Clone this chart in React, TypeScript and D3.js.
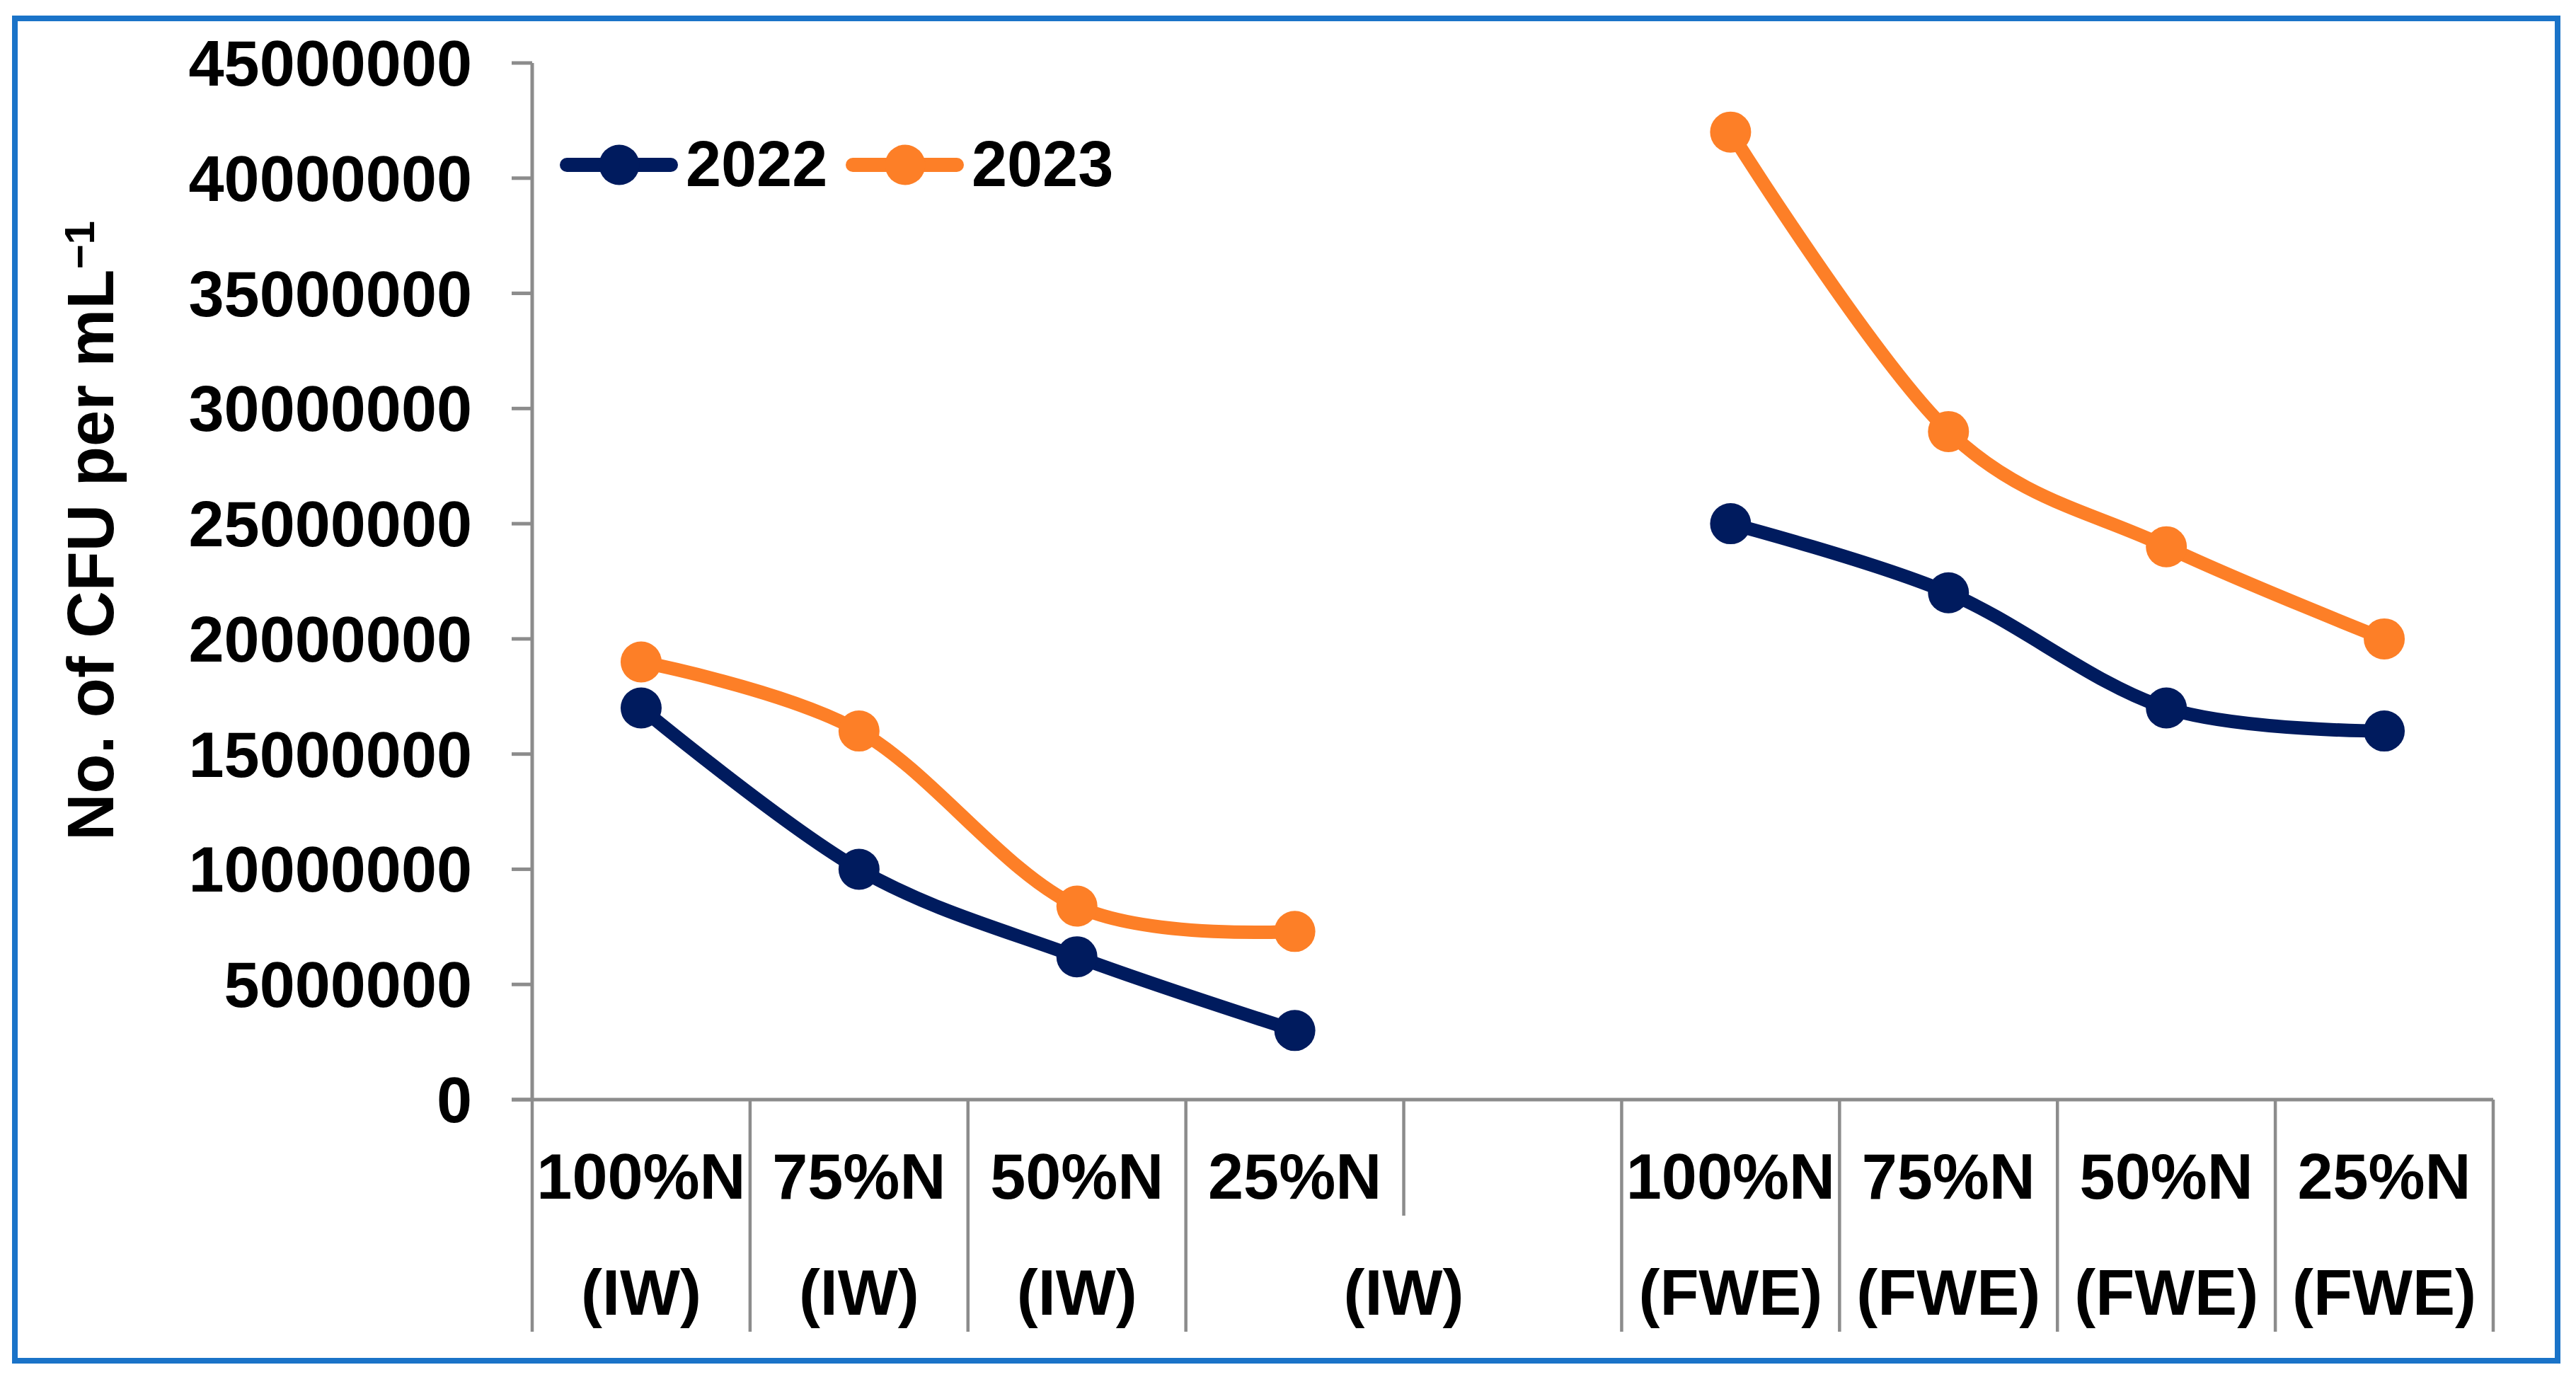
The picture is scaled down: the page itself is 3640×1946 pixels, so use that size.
import * as d3 from 'd3';

// ── Data ──────────────────────────────────────────────────
const catTop = ['100%N', '75%N', '50%N', '25%N', '', '100%N', '75%N', '50%N', '25%N'];
const catBottom = ['(IW)', '(IW)', '(IW)', '(IW)', '', '(FWE)', '(FWE)', '(FWE)', '(FWE)'];
// the 4th label's second line spills to the right edge of its band (Excel wrap quirk)
const bottomShifted = [false, false, false, true, false, false, false, false, false];

const values2022: (number | null)[] = [17000000, 10000000, 6200000, 3000000, null, 25000000, 22000000, 17000000, 16000000];
const values2023: (number | null)[] = [19000000, 16000000, 8400000, 7300000, null, 42000000, 29000000, 24000000, 20000000];

const series = [
  { name: '2022', values: values2022, color: '#001B5E' },
  { name: '2023', values: values2023, color: '#FD7F27' },
];

const yMax = 45000000;
const yStep = 5000000;

// ── Layout ───────────────────────────────────────────────
const W = 3640;
const H = 1946;
const X0 = 752;
const X1 = 3523;
const Y0 = 1554;
const Y1 = 89;
const FONT = '"Liberation Sans", Arial, sans-serif';
const AXIS = '#8C8C8C';
const LINE_W = 19;
const R = 29;

export default function App() {
  const idx = catTop.map((_, i) => i);
  const x = d3.scaleBand<number>().domain(idx).range([X0, X1]).padding(0);
  const y = d3.scaleLinear().domain([0, yMax]).range([Y0, Y1]);
  const cx = (i: number) => (x(i) ?? 0) + x.bandwidth() / 2;
  const ticks = d3.range(0, yMax + 1, yStep);

  const line = d3.line<number | null>()
    .defined(d => d !== null)
    .x((_, i) => cx(i))
    .y(d => y(d as number))
    .curve(d3.curveCardinal.tension(0));

  const bounds = d3.range(idx.length + 1).map(i => X0 + i * x.bandwidth());

  return (
    <div style={{ position: 'absolute', left: 0, top: 0 }}>
      <svg width={W} height={H} style={{ display: 'block', background: '#fff' }} fontFamily={FONT} fontWeight="bold">
        <rect x={0} y={0} width={W} height={H} fill="#fff" />
        <rect x={21} y={26} width={3593} height={1897} fill="none" stroke="#1A73C8" strokeWidth={8} />

        {/* y axis */}
        <line x1={X0} x2={X0} y1={Y1} y2={Y0} stroke={AXIS} strokeWidth={5} />
        {ticks.map(t => (
          <g key={t}>
            <line x1={723} x2={X0} y1={y(t)} y2={y(t)} stroke={AXIS} strokeWidth={5} />
            <text x={667} y={y(t) + 32} textAnchor="end" fontSize={90} fill="#000">{d3.format('d')(t)}</text>
          </g>
        ))}

        {/* x axis */}
        <line x1={723} x2={X1} y1={Y0} y2={Y0} stroke={AXIS} strokeWidth={5} />
        {bounds.map((bx, i) => (
          <line key={i} x1={bx} x2={bx} y1={Y0} y2={bottomShifted[i - 1] ? 1718 : 1882} stroke={AXIS} strokeWidth={4.5} />
        ))}
        {idx.map(i => (
          <g key={i} fontSize={90} fill="#000" textAnchor="middle">
            <text x={cx(i)} y={1694}>{catTop[i]}</text>
            <text x={bottomShifted[i] ? (x(i) ?? 0) + x.bandwidth() : cx(i)} y={1858}>{catBottom[i]}</text>
          </g>
        ))}

        {/* y title */}
        <text transform="translate(160,750) rotate(-90)" textAnchor="middle" fontSize={92} fill="#000">
          No. of CFU per mL<tspan fontSize={60} dy={-27}>−1</tspan>
        </text>

        {/* series */}
        {series.map(s => (
          <g key={s.name}>
            <path d={line(s.values) ?? ''} fill="none" stroke={s.color} strokeWidth={LINE_W} strokeLinejoin="round" />
            {s.values.map((v, i) => v === null ? null : (
              <circle key={i} cx={cx(i)} cy={y(v)} r={R} fill={s.color} />
            ))}
          </g>
        ))}

        {/* legend */}
        {series.map((s, i) => {
          const lx = 791 + i * 404;
          return (
            <g key={s.name}>
              <line x1={lx + 10} x2={lx + 157} y1={233} y2={233} stroke={s.color} strokeWidth={20} strokeLinecap="round" />
              <circle cx={lx + 84} cy={233} r={28.5} fill={s.color} />
              <text x={lx + 178} y={263} fontSize={90} fill="#000">{s.name}</text>
            </g>
          );
        })}
      </svg>
    </div>
  );
}
